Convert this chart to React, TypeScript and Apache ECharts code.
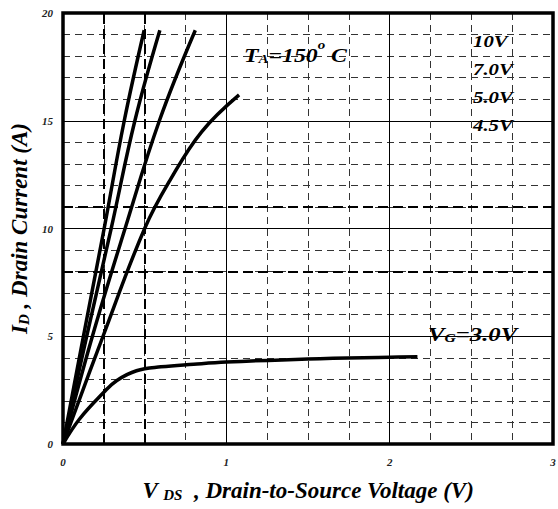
import React, { useEffect, useRef } from "react";
import * as echarts from "echarts";

// Drain-source voltage (V) and drain current (A) points for each gate voltage
const vds10V = [0, 0.125, 0.252, 0.375, 0.497];
const id10V = [0, 5, 10, 15, 19.2];

const vds7V = [0, 0.145, 0.295, 0.44, 0.593];
const id7V = [0, 5, 10, 15, 19.2];

const vds5V = [0, 0.18, 0.38, 0.59, 0.81];
const id5V = [0, 5, 10, 15, 19.2];

const vds45V = [0, 0.245, 0.5, 0.66, 0.85, 1.078];
const id45V = [0, 5, 10, 12.3, 14.5, 16.2];

const vds3V = [0, 0.1, 0.25, 0.33, 0.45, 0.6, 0.8, 1.0, 1.5, 2.0, 2.17];
const id3V = [0, 1.15, 2.4, 2.95, 3.4, 3.58, 3.7, 3.8, 3.95, 4.03, 4.05];

// Axis ranges and tick labels
const xTicks = [0, 1, 2, 3];
const yTicks = [0, 5, 10, 15, 20];

// Emphasised reference lines
const markVds = [0.25, 0.5];
const markId = [8, 11];

const FONT = "'Liberation Serif', 'Times New Roman', serif";

const pairs = (xs: number[], ys: number[]) => xs.map((x, i) => [x, ys[i]]);

// Plot frame placement (pixels)
const GRID = { left: 63, top: 13, width: 490, height: 431 };

export default function App() {
  const ref = useRef<HTMLDivElement>(null);

  useEffect(() => {
    if (!ref.current) return;
    const chart = echarts.init(ref.current, null, { renderer: "svg" });

    const curve = (name: string, xs: number[], ys: number[]) => ({
      name,
      type: "line",
      data: pairs(xs, ys),
      smooth: 0.4,
      showSymbol: false,
      symbol: "none",
      lineStyle: { color: "#000", width: 3.5 },
      z: 5,
    });

    const tickLabel = {
      fontFamily: FONT,
      fontStyle: "italic",
      fontWeight: "bold",
      fontSize: 11,
      color: "#222",
    };

    const bigText = {
      fontFamily: FONT,
      fontStyle: "italic",
      fontWeight: "bold",
      color: "#000",
    };

    const axisNameRich = {
      v: { ...bigText, fontSize: 23, lineHeight: 27, verticalAlign: "bottom" },
      s: { ...bigText, fontSize: 15, lineHeight: 22, verticalAlign: "bottom" },
      t: { ...bigText, fontSize: 23, lineHeight: 27, verticalAlign: "bottom" },
    };

    chart.setOption({
      animation: false,
      backgroundColor: "#fff",
      grid: {
        left: GRID.left,
        top: GRID.top,
        width: GRID.width,
        height: GRID.height,
        outerBoundsMode: "none",
        containLabel: false,
        show: false,
      },
      xAxis: {
        type: "value",
        min: xTicks[0],
        max: xTicks[xTicks.length - 1],
        interval: 1,
        axisLine: { show: false },
        axisTick: { show: false },
        axisLabel: { ...tickLabel, margin: 12 },
        splitLine: { show: true, lineStyle: { color: "#000", width: 1 } },
        minorTick: { show: false, splitNumber: 4 },
        minorSplitLine: {
          show: true,
          lineStyle: { color: "#333", width: 1, type: [7, 5] },
        },
        name: "{v|V }{s|DS}{t|  , Drain-to-Source Voltage (V)}",
        nameLocation: "middle",
        nameGap: 31,
        nameTextStyle: { rich: axisNameRich },
      },
      yAxis: {
        type: "value",
        min: yTicks[0],
        max: yTicks[yTicks.length - 1],
        interval: 5,
        axisLine: { show: false },
        axisTick: { show: false },
        axisLabel: { ...tickLabel, margin: 10 },
        splitLine: { show: true, lineStyle: { color: "#000", width: 1 } },
        minorTick: { show: false, splitNumber: 5 },
        minorSplitLine: {
          show: true,
          lineStyle: { color: "#333", width: 1, type: [7, 5] },
        },
        name: "{v|I}{s|D}{t| , Drain Current (A)}",
        nameLocation: "middle",
        nameGap: 31,
        nameRotate: 90,
        nameTextStyle: { rich: axisNameRich },
      },
      series: [
        {
          type: "line",
          data: [],
          silent: true,
          markLine: {
            silent: true,
            symbol: "none",
            label: { show: false },
            lineStyle: { color: "#000", width: 2, type: [10, 5] },
            data: [
              ...markVds.map((v) => ({ xAxis: v })),
              ...markId.map((v) => ({ yAxis: v })),
            ],
          },
        },
        curve("10V", vds10V, id10V),
        curve("7.0V", vds7V, id7V),
        curve("5.0V", vds5V, id5V),
        curve("4.5V", vds45V, id45V),
        curve("3.0V", vds3V, id3V),
      ],
      graphic: [
        {
          type: "rect",
          silent: true,
          z: 100,
          shape: { x: GRID.left, y: GRID.top, width: GRID.width, height: GRID.height },
          style: { fill: "none", stroke: "#000", lineWidth: 3.5 },
        },
        {
          type: "text",
          x: 244,
          y: 52,
          scaleX: 1.25,
          z: 1,
          style: {
            text: "{m|T}{s|A}{m|=150}{p|o}{m| C}",
            verticalAlign: "middle",
            rich: {
              m: { ...bigText, fontSize: 19, lineHeight: 22, verticalAlign: "bottom" },
              s: { ...bigText, fontSize: 12, lineHeight: 16, verticalAlign: "bottom" },
              p: { ...bigText, fontSize: 12, lineHeight: 26, verticalAlign: "top" },
            },
          },
        },
        ...["10V", "7.0V", "5.0V", "4.5V"].map((t, i) => ({
          type: "text",
          x: 473,
          y: 41 + i * 28,
          scaleX: 1.3,
          z: 1,
          style: {
            text: t,
            ...bigText,
            fontSize: 16,
            verticalAlign: "middle",
            align: "left",
          },
        })),
        {
          type: "text",
          x: 428,
          y: 333,
          scaleX: 1.3,
          z: 1,
          style: {
            text: "{m|V}{s|G}{m|=3.0V}",
            verticalAlign: "middle",
            rich: {
              m: { ...bigText, fontSize: 19, lineHeight: 22, verticalAlign: "bottom" },
              s: { ...bigText, fontSize: 12, lineHeight: 16, verticalAlign: "bottom" },
            },
          },
        },
      ],
    });

    return () => chart.dispose();
  }, []);

  return (
    <div
      ref={ref}
      style={{ position: "fixed", left: 0, top: 0, width: 558, height: 509, background: "#fff" }}
    />
  );
}
